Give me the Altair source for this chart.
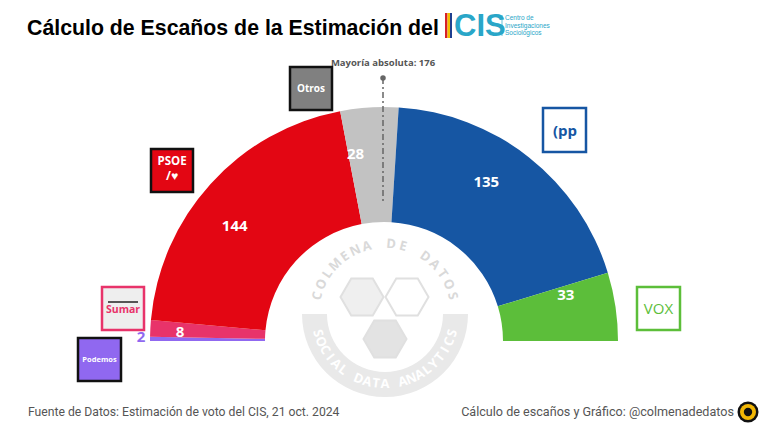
import math
import altair as alt
import pandas as pd

# ---------------- data ----------------
parties = ["Podemos", "Sumar", "PSOE", "Otros", "PP", "VOX"]
seats = [2, 8, 144, 28, 135, 33]
colors = ["#9068f0", "#e8336a", "#e30613", "#c2c2c2", "#1656a3", "#5cbe3a"]

title_text = "Cálculo de Escaños de la Estimación del"
majority_text = "Mayoría absoluta: 176"
source_text = "Fuente de Datos: Estimación de voto del CIS, 21 oct. 2024"
credit_text = "Cálculo de escaños y Gráfico: @colmenadedatos"
wm_top = "COLMENA DE DATOS"
wm_bottom = "SOCIAL DATA ANALYTICS"
cis_lines = ["Centro de", "Investigaciones", "Sociológicos"]

total = sum(seats)

# ---------------- layout (pixels, chart coords = page - 8) ----------------
W, H = 752, 416
CX, CY = 376, 333
R_OUT, R_IN = 234, 119
WX, WY = 377, 306  # watermark centre

one = pd.DataFrame({"a": [0]})
df = pd.DataFrame({"party": parties, "seats": seats, "color": colors,
                   "idx": list(range(len(parties)))})

theta_scale = alt.Scale(domain=[0, total], range=[-math.pi / 2, math.pi / 2])

# ---------- watermark ----------
wm_band = alt.Chart(one).mark_arc(
    radius=83, radius2=58, theta=math.pi / 2, theta2=3 * math.pi / 2, color="#e9e9e9"
).encode(x=alt.value(WX), y=alt.value(WY))

letters = []
n = len(wm_top)
for i, ch in enumerate(wm_top):
    d = -75 + 150 * i / (n - 1)
    letters.append({"ch": ch, "th": math.radians(d), "ang": d % 360, "col": "#d9d9d9"})
n = len(wm_bottom)
for i, ch in enumerate(wm_bottom):
    d = 254 - 148 * i / (n - 1)
    letters.append({"ch": ch, "th": math.radians(d), "ang": (d - 180) % 360, "col": "#ffffff"})
wm_letters = alt.Chart(pd.DataFrame(letters)).mark_text(
    font="Open Sans", fontWeight="bold", fontSize=13, baseline="middle", align="center"
).encode(
    x=alt.value(WX), y=alt.value(WY),
    theta=alt.Theta("th:Q", scale=None),
    radius=alt.value(70),
    angle=alt.Angle("ang:Q", scale=None),
    text="ch:N",
    color=alt.Color("col:N", scale=None),
)

hex_path = "M1,0 L0.5,0.866 L-0.5,0.866 L-1,0 L-0.5,-0.866 L0.5,-0.866 Z"
hexes = pd.DataFrame({
    "x": [354, 399, 377],
    "y": [289, 289, 331],
    "fill": ["#efefef", "#ffffff", "#e3e3e3"],
})
wm_hex = alt.Chart(hexes).mark_point(
    shape=hex_path, filled=True, size=1849, stroke="#e0e0e0", strokeWidth=2, opacity=1
).encode(
    x=alt.X("x:Q", scale=None), y=alt.Y("y:Q", scale=None),
    fill=alt.Fill("fill:N", scale=None),
)

# ---------- hemicycle ----------
arcs = alt.Chart(df).mark_arc(radius=R_OUT, radius2=R_IN).encode(
    theta=alt.Theta("seats:Q", stack=True, scale=theta_scale),
    order=alt.Order("idx:Q"),
    color=alt.Color("color:N", scale=None),
    x=alt.value(CX), y=alt.value(CY),
)

labels = alt.Chart(df).transform_calculate(
    lr="datum.seats < 5 ? 243 : datum.seats < 10 ? 204 : 187",
    lc="datum.seats < 5 ? '#9068f0' : '#ffffff'",
).mark_text(font="Open Sans", fontWeight="bold", fontSize=15, baseline="middle").encode(
    theta=alt.Theta("seats:Q", stack=True, scale=theta_scale),
    order=alt.Order("idx:Q"),
    radius=alt.Radius("lr:Q", scale=None),
    color=alt.Color("lc:N", scale=None),
    text=alt.Text("seats:Q"),
    x=alt.value(CX), y=alt.value(CY - 2),
)

# ---------- majority marker ----------
maj_rule = alt.Chart(one).mark_rule(
    color="#666666", strokeWidth=1.5, strokeDash=[6, 3, 2, 3]
).encode(x=alt.value(375), y=alt.value(70), y2=alt.value(193))
maj_dot = alt.Chart(one).mark_point(filled=True, color="#666666", size=30, opacity=1).encode(
    x=alt.value(375), y=alt.value(70))
maj_text = alt.Chart(one).mark_text(
    text=majority_text, font="Open Sans", fontWeight="bold", fontSize=9.5, color="#555555"
).encode(x=alt.value(375), y=alt.value(55))

# ---------- party boxes ----------
boxes = pd.DataFrame({
    "x": [143, 282, 535, 629, 94, 70, 437, 439.5, 442],
    "x2": [185, 324, 578, 672, 136, 113, 439.5, 442, 444],
    "y": [141, 59, 100, 279, 279, 330, 5, 5, 5],
    "y2": [184, 102, 144, 322, 322, 373, 30, 30, 30],
    "fill": ["#e30613", "#808080", "#ffffff", "#ffffff", "#eeeeee", "#9068f0",
             "#d6202a", "#f2c200", "#1e3f8f"],
    "stroke": ["#111111", "#111111", "#1656a3", "#5cbe3a", "#e8336a", "#111111",
               "#d6202a", "#f2c200", "#1e3f8f"],
    "sw": [2.5, 2.5, 2.5, 2.5, 2.5, 2.5, 0, 0, 0],
})
box_layer = alt.Chart(boxes).mark_rect().encode(
    x=alt.X("x:Q", scale=None), x2="x2:Q",
    y=alt.Y("y:Q", scale=None), y2="y2:Q",
    fill=alt.Fill("fill:N", scale=None),
    stroke=alt.Stroke("stroke:N", scale=None),
    strokeWidth=alt.StrokeWidth("sw:Q", scale=None),
)

sumar_line = alt.Chart(one).mark_rule(color="#222222", strokeWidth=1.5).encode(
    x=alt.value(100), x2=alt.value(130), y=alt.value(294))

box_text = pd.DataFrame({
    "t": ["PSOE", "/\u2665", "Otros", "(pp", "Sumar", "Podemos"],
    "x": [164, 164, 303, 557, 115, 91.5],
    "y": [154, 168, 81, 123, 302, 352],
    "c": ["#ffffff", "#ffffff", "#ffffff", "#1656a3", "#e8336a", "#ffffff"],
    "s": [11.5, 12, 10, 15, 10.5, 7.5],
})
box_text_layer = alt.Chart(box_text).mark_text(
    font="Open Sans", fontWeight="bold", baseline="middle", align="center"
).encode(
    x=alt.X("x:Q", scale=None), y=alt.Y("y:Q", scale=None),
    text="t:N",
    color=alt.Color("c:N", scale=None),
    size=alt.Size("s:Q", scale=None),
)
vox_text = alt.Chart(one).mark_text(
    text="VOX", font="Open Sans", fontSize=15, color="#5cbe3a",
    baseline="middle", align="center"
).encode(x=alt.value(650.5), y=alt.value(301))

# ---------- title and CIS logo ----------
title = alt.Chart(one).mark_text(
    text=title_text, font="Liberation Sans", fontWeight="bold", fontSize=21.3,
    align="left", baseline="alphabetic", color="#000000"
).encode(x=alt.value(19), y=alt.value(27))

cis = alt.Chart(one).mark_text(
    text="CIS", font="Liberation Sans", fontWeight="bold", fontSize=31,
    align="left", baseline="alphabetic", color="#2aa6c8"
).encode(x=alt.value(446), y=alt.value(28))

cis_sep = alt.Chart(one).mark_rule(color="#2aa6c8", strokeWidth=0.7).encode(
    x=alt.value(494), y=alt.value(7), y2=alt.value(28))

cis_small = alt.Chart(pd.DataFrame({"t": cis_lines, "y": [10, 17.5, 25]})).mark_text(
    font="Liberation Sans", fontSize=6.5, align="left", baseline="middle", color="#2aa6c8"
).encode(x=alt.value(497), y=alt.Y("y:Q", scale=None), text="t:N")

# ---------- footer ----------
source = alt.Chart(one).mark_text(
    text=source_text, font="Roboto", fontSize=12.2, align="left",
    baseline="middle", color="#555555"
).encode(x=alt.value(20), y=alt.value(404))

credit = alt.Chart(one).mark_text(
    text=credit_text, font="Roboto", fontSize=12.6, align="right",
    baseline="middle", color="#555555"
).encode(x=alt.value(726), y=alt.value(404))

logo = pd.DataFrame({"s": [441, 256, 70], "c": ["#111111", "#f2b705", "#111111"]})
logo_layer = alt.Chart(logo).mark_point(filled=True, shape="circle", opacity=1).encode(
    x=alt.value(740), y=alt.value(404),
    size=alt.Size("s:Q", scale=None),
    color=alt.Color("c:N", scale=None),
)

chart = alt.layer(
    wm_band, wm_hex, wm_letters,
    arcs, labels,
    maj_rule, maj_dot, maj_text,
    box_layer, sumar_line, box_text_layer, vox_text,
    title, cis, cis_sep, cis_small,
    source, credit, logo_layer,
).properties(
    width=W, height=H, padding=0,
    autosize=alt.AutoSizeParams(type="fit", contains="padding"),
    background="#ffffff",
).configure_view(stroke=None)

chart.save("out.html", embed_options={"renderer": "svg", "actions": False})
